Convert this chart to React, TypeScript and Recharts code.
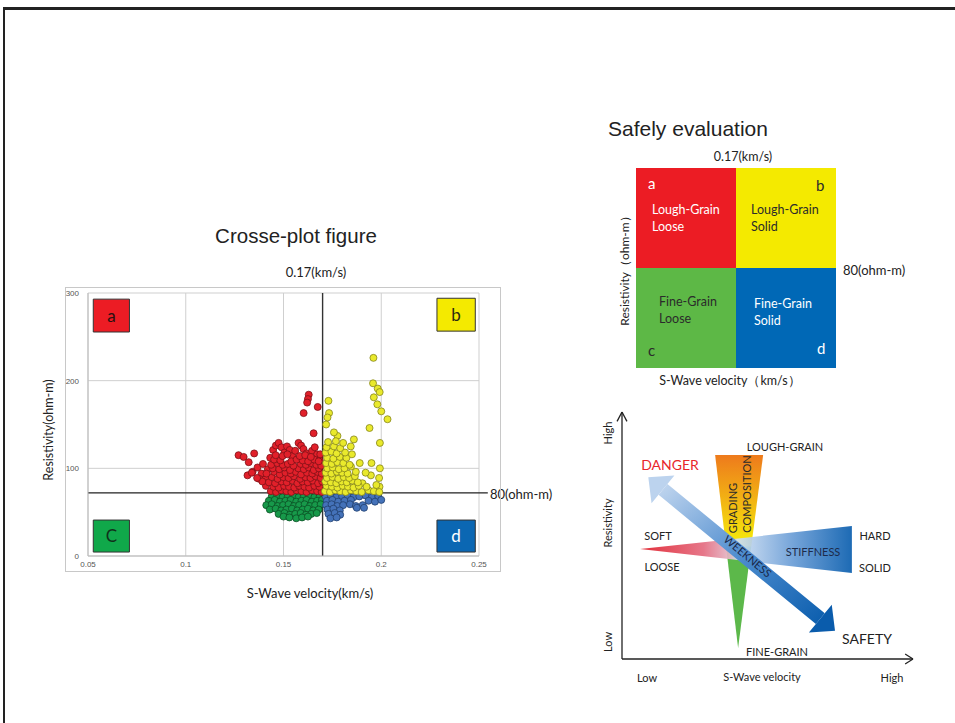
import React from "react";
import {
  ScatterChart,
  Scatter,
  ComposedChart,
  Area,
  XAxis,
  YAxis,
  CartesianGrid,
  ReferenceLine,
  ReferenceArea,
} from "recharts";

// ---- cross-plot: S-wave velocity (km/s) vs resistivity (ohm-m)
const velocityTicks = [0.05, 0.1, 0.15, 0.2, 0.25];
const resistivityTicks = [0, 100, 200, 300];
const velocityCut = 0.17;
const resistivityCut = 72; // the drawn cut line sits at ~72 on the plot scale

// a : lough-grain loose (red)
const groupA: [number, number][] = [
  [0.1629, 184], [0.1625, 179], [0.1621, 175], [0.1675, 170], [0.1603, 163], [0.1654, 140],
  [0.127, 115], [0.1296, 113], [0.1322, 107], [0.135, 117], [0.1316, 92], [0.1342, 96],
  [0.1367, 101], [0.1408, 89], [0.1388, 94], [0.1395, 105], [0.1376, 88], [0.142, 99],
  [0.1432, 112], [0.1447, 121], [0.1461, 126], [0.1475, 129], [0.149, 124], [0.1505, 118],
  [0.1518, 125], [0.1532, 121], [0.1545, 114], [0.156, 120], [0.1577, 129], [0.159, 126],
  [0.1602, 122], [0.1618, 117], [0.1633, 111], [0.1646, 120], [0.166, 124], [0.1672, 116],
  [0.1685, 109],
  [0.1435, 74], [0.1462, 73], [0.1488, 75], [0.1515, 74], [0.154, 73], [0.1566, 75],
  [0.1592, 74], [0.1618, 73], [0.1645, 75], [0.1672, 74], [0.1695, 73],
  [0.141, 80], [0.1448, 79], [0.1475, 78], [0.1503, 80], [0.1528, 79], [0.1555, 78],
  [0.158, 80], [0.1607, 79], [0.1631, 78], [0.1658, 80], [0.1684, 79],
  [0.1392, 85], [0.1425, 84], [0.1457, 83], [0.149, 85], [0.1517, 84], [0.1546, 86],
  [0.1571, 83], [0.1597, 85], [0.1624, 84], [0.165, 86], [0.1677, 83], [0.1698, 85],
  [0.1365, 89], [0.144, 90], [0.147, 88], [0.1499, 90], [0.1526, 89], [0.1553, 91],
  [0.1585, 88], [0.1612, 90], [0.1638, 89], [0.1664, 91], [0.169, 89],
  [0.1338, 95], [0.1413, 94], [0.1452, 96], [0.1481, 93], [0.151, 95], [0.1538, 94],
  [0.1563, 96], [0.159, 93], [0.162, 95], [0.1647, 94], [0.1673, 96], [0.1696, 94],
  [0.1445, 100], [0.1478, 99], [0.1505, 101], [0.1533, 98], [0.1576, 100], [0.1604, 99],
  [0.1629, 101], [0.1655, 98], [0.1681, 100],
  [0.1437, 104], [0.1468, 106], [0.1496, 104], [0.1522, 105], [0.1551, 103], [0.1588, 105],
  [0.1615, 104], [0.1642, 106], [0.1668, 104], [0.1693, 103],
  [0.1452, 110], [0.1484, 109], [0.154, 108], [0.1567, 110], [0.1598, 109], [0.1626, 108],
  [0.1657, 110], [0.168, 108],
  [0.146, 115], [0.1495, 114], [0.152, 116], [0.1583, 114], [0.1611, 115], [0.164, 113],
  [0.1688, 116],
];

// b : lough-grain solid (yellow)
const groupB: [number, number][] = [
  [0.196, 226], [0.1958, 197], [0.1982, 191], [0.1992, 187], [0.1962, 181], [0.198, 173],
  [0.2, 165], [0.2032, 156], [0.194, 146], [0.1993, 129], [0.173, 177], [0.1733, 163],
  [0.1725, 158], [0.1718, 150], [0.1776, 137], [0.1758, 141], [0.186, 133], [0.1844, 125],
  [0.189, 106], [0.195, 106], [0.1993, 100], [0.1989, 89], [0.1991, 79], [0.1947, 92],
  [0.192, 95], [0.1904, 83],
  [0.1712, 74], [0.1738, 73], [0.1765, 75], [0.179, 74], [0.1818, 73], [0.1845, 75],
  [0.1872, 74], [0.19, 73], [0.1935, 75], [0.1962, 74], [0.199, 73],
  [0.172, 80], [0.1748, 79], [0.1776, 78], [0.1803, 80], [0.183, 79], [0.1858, 78],
  [0.1885, 80], [0.1925, 79], [0.1975, 81],
  [0.1714, 85], [0.1742, 84], [0.177, 83], [0.1797, 85], [0.1824, 84], [0.1852, 86],
  [0.188, 84],
  [0.1722, 89], [0.1751, 90], [0.178, 88], [0.1808, 90], [0.1836, 89], [0.1865, 91],
  [0.1716, 95], [0.1745, 94], [0.1773, 96], [0.18, 95], [0.1828, 94], [0.187, 96],
  [0.1724, 100], [0.1752, 101], [0.1783, 99], [0.1812, 100], [0.1845, 102],
  [0.1718, 106], [0.1747, 105], [0.1775, 107], [0.1806, 106], [0.1838, 104],
  [0.1723, 112], [0.1755, 111], [0.1788, 113], [0.1822, 112],
  [0.1716, 118], [0.1745, 119], [0.1772, 117], [0.1815, 118], [0.185, 116],
  [0.172, 124], [0.1758, 125], [0.179, 123],
  [0.1728, 130], [0.1768, 131], [0.1805, 129],
];

// c : fine-grain loose (green)
const groupC: [number, number][] = [
  [0.144, 68], [0.1468, 69], [0.1495, 67], [0.1522, 68], [0.155, 69], [0.1577, 67],
  [0.1604, 68], [0.163, 69], [0.1658, 67], [0.1685, 68],
  [0.1425, 63], [0.1455, 64], [0.1482, 62], [0.151, 63], [0.1537, 64], [0.1565, 62],
  [0.1592, 63], [0.1618, 64], [0.1645, 62], [0.1672, 63], [0.1697, 64],
  [0.1412, 58], [0.144, 59], [0.147, 57], [0.1498, 58], [0.1526, 59], [0.1553, 57],
  [0.158, 58], [0.1608, 59], [0.1635, 57], [0.1662, 58], [0.169, 59],
  [0.143, 53], [0.146, 54], [0.1488, 52], [0.1515, 53], [0.1543, 54], [0.157, 52],
  [0.1598, 53], [0.1625, 54], [0.1652, 52], [0.168, 53],
  [0.1475, 48], [0.1505, 49], [0.1533, 47], [0.156, 48], [0.1588, 49], [0.1615, 47],
  [0.1642, 48], [0.167, 49],
  [0.15, 45], [0.153, 44], [0.1565, 43], [0.1595, 44], [0.1625, 45],
];

// d : fine-grain solid (blue)
const groupD: [number, number][] = [
  [0.1715, 68], [0.1742, 69], [0.177, 67], [0.18, 68], [0.1828, 69], [0.1858, 67],
  [0.1888, 68], [0.192, 69], [0.1952, 67], [0.1985, 68],
  [0.1722, 63], [0.175, 64], [0.178, 62], [0.1812, 63], [0.1845, 64], [0.1935, 63],
  [0.1968, 62], [0.2, 64],
  [0.1718, 58], [0.1746, 59], [0.1775, 57], [0.1805, 58], [0.184, 59], [0.187, 57],
  [0.1905, 58],
  [0.1725, 53], [0.1755, 54], [0.1788, 52], [0.1875, 55], [0.1912, 55],
  [0.173, 48], [0.1762, 49], [0.179, 47],
  [0.174, 43], [0.1772, 44],
];

// quadrant badges drawn inside the cross-plot
const badges = [
  { id: "a", x1: 0.0527, x2: 0.0712, y1: 255.5, y2: 293 },
  { id: "b", x1: 0.2285, x2: 0.2481, y1: 256.5, y2: 294 },
  { id: "C", x1: 0.0527, x2: 0.0712, y1: 4.5, y2: 41 },
  { id: "d", x1: 0.2285, x2: 0.2481, y1: 4.5, y2: 41 },
];

// ---- safety evaluation table
const evalCells = [
  { id: "a", name: ["Lough-Grain", "Loose"], col: 0, row: 1 },
  { id: "b", name: ["Lough-Grain", "Solid"], col: 1, row: 1 },
  { id: "c", name: ["Fine-Grain", "Loose"], col: 0, row: 0 },
  { id: "d", name: ["Fine-Grain", "Solid"], col: 1, row: 0 },
];

// ---- schematic (0..100 on both axes), shapes given as [low, high] ranges
const gradingFan = [
  { x: 32.0, r: [82.6, 82.6] },
  { x: 39.9, r: [4.5, 82.6] },
  { x: 48.5, r: [82.6, 82.6] },
];
const stiffnessWedge = [
  { x: 6.2, r: [44.5, 44.5] },
  { x: 79.0, r: [34.8, 53.8] },
];
const arrowTail = [
  { x: 9.04, r: [73.56, 73.56] },
  { x: 10.15, r: [63.05, 73.65] },
  { x: 18.01, r: [74.31, 74.31] },
];
const arrowShaft = [
  { x: 12.56, r: [66.49, 66.49] },
  { x: 15.61, r: [63.54, 70.87] },
  { x: 66.63, r: [14.15, 21.48] },
  { x: 69.68, r: [18.53, 18.53] },
];
const arrowHead = [
  { x: 64.22, r: [10.71, 10.71] },
  { x: 72.08, r: [11.37, 21.97] },
  { x: 73.2, r: [11.46, 11.46] },
];

const shapeSets: Record<string, { x: number; r: number[] }[]> = {
  fan: gradingFan,
  stiff: stiffnessWedge,
  tail: arrowTail,
  shaft: arrowShaft,
  head: arrowHead,
};
const schemaTable = (() => {
  const rows: Record<number, any> = {};
  Object.entries(shapeSets).forEach(([key, pts]) =>
    pts.forEach((p) => {
      rows[p.x] = rows[p.x] || { x: p.x };
      rows[p.x][key] = p.r;
    })
  );
  return Object.values(rows).sort((a: any, b: any) => a.x - b.x);
})();

const toPts = (arr: [number, number][]) => arr.map(([v, r]) => ({ v, r }));

const dot = (fill: string, stroke: string) => (p: any) =>
  <circle cx={p.cx} cy={p.cy} r={3.5} fill={fill} stroke={stroke} strokeWidth={0.8} />;

const badgeColor: Record<string, string> = { a: "#ec1c24", b: "#f4ea00", C: "#10a84a", d: "#0b67b3" };
const badgeText: Record<string, string> = { a: "#2a1010", b: "#2a2a10", C: "#10301a", d: "#ffffff" };
const cellColor: Record<string, string> = { a: "#ec1c24", b: "#f4ea00", c: "#5db846", d: "#0068b6" };
const cellText: Record<string, string> = { a: "#ffffff", b: "#2b2b2b", c: "#2b2b2b", d: "#ffffff" };

const LATO = "Lato, 'Noto Sans', sans-serif";

const Txt = ({ x, y, children, size = 12, color = "#222", rotate = 0, font = LATO, align = "center" }: any) => (
  <div
    style={{
      position: "absolute",
      left: x,
      top: y,
      transform: `translate(${align === "left" ? "0" : "-50%"}, -50%) rotate(${rotate}deg)`,
      fontSize: size,
      color,
      fontFamily: font,
      whiteSpace: "nowrap",
      lineHeight: 1,
    }}
  >
    {children}
  </div>
);

const cellLayout: Record<string, any> = {
  a: { lx: 12, ly: 21, tx: 16, ty: 46 },
  b: { lx: 80, ly: 23, tx: 15, ty: 46 },
  c: { lx: 12, ly: 88, tx: 23, ty: 38 },
  d: { lx: 81, ly: 86, tx: 18, ty: 40 },
};

const cellLabel = (cell: any) => (props: any) => {
  const vb = props.viewBox || {};
  const { x, y } = vb;
  const c = cellText[cell.id];
  const L = cellLayout[cell.id];
  return (
    <g fontFamily={LATO}>
      <text x={x + L.lx} y={y + L.ly} fill={c} fontSize={15}>{cell.id}</text>
      <text x={x + L.tx} y={y + L.ty} fill={c} fontSize={12.5}>{cell.name[0]}</text>
      <text x={x + L.tx} y={y + L.ty + 17} fill={c} fontSize={12.5}>{cell.name[1]}</text>
    </g>
  );
};

export default function App() {
  const tickStyle = { fontSize: 8, fill: "#555", fontFamily: "'Liberation Sans', Arial" };
  return (
    <div
      style={{
        position: "absolute",
        left: 0,
        top: 0,
        width: 955,
        height: 723,
        background: "#fff",
        overflow: "hidden",
        fontFamily: "'Liberation Sans', Arial, sans-serif",
      }}
    >
      {/* page frame */}
      <div style={{ position: "absolute", left: 3, top: 7, width: 960, height: 730, borderTop: "3px solid #222", borderLeft: "2px solid #222" }} />

      {/* ---- cross plot ---- */}
      <Txt x={296} y={236} size={20.5} font="'Liberation Sans', Arial">Crosse-plot figure</Txt>
      <Txt x={316} y={272} size={13}>0.17(km/s)</Txt>
      <Txt x={490} y={494} size={13} align="left">80(ohm-m)</Txt>
      <Txt x={49} y={430} size={12.5} rotate={-90}>Resistivity(ohm-m)</Txt>
      <Txt x={310} y={593} size={13}>S-Wave velocity(km/s)</Txt>
      <div style={{ position: "absolute", left: 65, top: 287, width: 434, height: 283, border: "1px solid #c8c8c8" }} />
      <div style={{ position: "absolute", left: 65, top: 287 }}>
        <ScatterChart width={435} height={284} margin={{ top: 6, right: 21, bottom: 0, left: 3 }}>
          <CartesianGrid stroke="#cfcfcf" />
          <XAxis
            type="number"
            dataKey="v"
            domain={[0.05, 0.25]}
            ticks={velocityTicks}
            interval={0}
            height={15}
            tickLine={false}
            tickSize={0}
            tickMargin={5}
            axisLine={{ stroke: "#bbb" }}
            tick={tickStyle}
          />
          <YAxis
            type="number"
            dataKey="r"
            domain={[0, 300]}
            ticks={resistivityTicks}
            interval={0}
            width={20}
            tickLine={false}
            tickSize={0}
            tickMargin={9}
            axisLine={{ stroke: "#bbb" }}
            tick={tickStyle}
          />
          <Scatter data={toPts(groupC)} shape={dot("#17994a", "#0b4f25")} isAnimationActive={false} />
          <Scatter data={toPts(groupD)} shape={dot("#4472b9", "#22406f")} isAnimationActive={false} />
          <Scatter data={toPts(groupA)} shape={dot("#e1202a", "#7e1016")} isAnimationActive={false} />
          <Scatter data={toPts(groupB)} shape={dot("#e9e92c", "#85851a")} isAnimationActive={false} />
          <ReferenceLine x={velocityCut} stroke="#333" strokeWidth={1.4} />
          <ReferenceLine
            segment={[{ x: 0.05, y: resistivityCut }, { x: 0.2545, y: resistivityCut }]}
            stroke="#222"
            strokeWidth={1.4}
            ifOverflow="visible"
          />
          {badges.map((b) => (
            <ReferenceArea
              key={b.id}
              x1={b.x1}
              x2={b.x2}
              y1={b.y1}
              y2={b.y2}
              fill={badgeColor[b.id]}
              fillOpacity={1}
              stroke="#333"
              strokeWidth={1}
              ifOverflow="visible"
              label={{ value: b.id, position: "center", fill: badgeText[b.id], fontSize: 17, fontFamily: LATO }}
            />
          ))}
        </ScatterChart>
      </div>

      {/* ---- safety evaluation table ---- */}
      <Txt x={608} y={128} size={21} align="left" font="'Liberation Sans', Arial">Safely evaluation</Txt>
      <Txt x={743} y={157} size={12.5}>0.17(km/s)</Txt>
      <Txt x={843} y={270} size={13} align="left">80(ohm-m)</Txt>
      <Txt x={625} y={268} size={12} rotate={-90}>Resistivity（ohm-m）</Txt>
      <Txt x={730} y={381} size={12.5}>S-Wave velocity（km/s）</Txt>
      <div style={{ position: "absolute", left: 636, top: 168 }}>
        <ScatterChart width={200} height={200} margin={{ top: 0, right: 0, bottom: 0, left: 0 }}>
          <XAxis type="number" dataKey="v" domain={[0, 2]} hide />
          <YAxis type="number" dataKey="r" domain={[0, 2]} hide />
          <Scatter
            data={evalCells.map((c) => ({ v: c.col + 0.5, r: c.row + 0.5 }))}
            shape={() => <g />}
            isAnimationActive={false}
          />
          {evalCells.map((c) => (
            <ReferenceArea
              key={c.id}
              x1={c.col}
              x2={c.col + 1}
              y1={c.row}
              y2={c.row + 1}
              fill={cellColor[c.id]}
              fillOpacity={1}
              stroke="none"
              ifOverflow="visible"
              label={cellLabel(c)}
            />
          ))}
        </ScatterChart>
      </div>

      {/* ---- schematic ---- */}
      <div style={{ position: "absolute", left: 612, top: 402 }}>
        <ComposedChart width={311} height={267} data={schemaTable} margin={{ top: 10, right: 10, bottom: 10, left: 10 }}>
          <defs>
            <linearGradient id="fanGrad" x1="0" y1="0" x2="0" y2="1">
              <stop offset="0" stopColor="#ee7a1c" />
              <stop offset="0.42" stopColor="#f5e10c" />
              <stop offset="0.47" stopColor="#f2e512" />
              <stop offset="0.48" stopColor="#5cb84a" />
              <stop offset="1" stopColor="#5cb84a" />
            </linearGradient>
            <linearGradient id="stiffGrad" x1="0" y1="0" x2="1" y2="0">
              <stop offset="0" stopColor="#e01e2a" />
              <stop offset="0.3" stopColor="#e46c80" />
              <stop offset="0.43" stopColor="#e4bccb" />
              <stop offset="0.46" stopColor="#d0e0f3" />
              <stop offset="0.72" stopColor="#6a9dd6" />
              <stop offset="1" stopColor="#0a5eae" />
            </linearGradient>
            <linearGradient id="shaftGrad" x1="0" y1="0" x2="1" y2="1">
              <stop offset="0" stopColor="#c3d7ef" />
              <stop offset="0.5" stopColor="#4f8dcf" />
              <stop offset="1" stopColor="#0a5dad" />
            </linearGradient>
          </defs>
          <XAxis type="number" dataKey="x" domain={[0, 100]} hide />
          <YAxis type="number" domain={[0, 100]} hide />
          <Area type="linear" dataKey="fan" fill="url(#fanGrad)" fillOpacity={1} stroke="none" connectNulls dot={false} activeDot={false} isAnimationActive={false} />
          <Area type="linear" dataKey="stiff" fill="url(#stiffGrad)" fillOpacity={0.92} stroke="none" connectNulls dot={false} activeDot={false} isAnimationActive={false} />
          <Area type="linear" dataKey="shaft" fill="url(#shaftGrad)" fillOpacity={1} stroke="none" connectNulls dot={false} activeDot={false} isAnimationActive={false} />
          <Area type="linear" dataKey="tail" fill="#bcd3ee" fillOpacity={1} stroke="none" connectNulls dot={false} activeDot={false} isAnimationActive={false} />
          <Area type="linear" dataKey="head" fill="#0a5cac" fillOpacity={1} stroke="none" connectNulls dot={false} activeDot={false} isAnimationActive={false} />
          <ReferenceLine segment={[{ x: 0, y: 0 }, { x: 0, y: 100 }]} stroke="#222" strokeWidth={1.3} ifOverflow="visible" />
          <ReferenceLine segment={[{ x: -1.7, y: 96.2 }, { x: 0, y: 100 }]} stroke="#222" strokeWidth={1.3} ifOverflow="visible" />
          <ReferenceLine segment={[{ x: 1.7, y: 96.2 }, { x: 0, y: 100 }]} stroke="#222" strokeWidth={1.3} ifOverflow="visible" />
          <ReferenceLine segment={[{ x: 0, y: 0 }, { x: 100, y: 0 }]} stroke="#222" strokeWidth={1.3} ifOverflow="visible" />
          <ReferenceLine segment={[{ x: 97.3, y: 2 }, { x: 100, y: 0 }]} stroke="#222" strokeWidth={1.3} ifOverflow="visible" />
          <ReferenceLine segment={[{ x: 97.3, y: -2 }, { x: 100, y: 0 }]} stroke="#222" strokeWidth={1.3} ifOverflow="visible" />
        </ComposedChart>
      </div>
      <Txt x={785} y={446} size={11}>LOUGH-GRAIN</Txt>
      <Txt x={777} y={651} size={11}>FINE-GRAIN</Txt>
      <Txt x={670} y={465} size={14} color="#e8262b">DANGER</Txt>
      <Txt x={867} y={639} size={14}>SAFETY</Txt>
      <Txt x={658} y={535} size={11}>SOFT</Txt>
      <Txt x={662} y={566} size={11}>LOOSE</Txt>
      <Txt x={875} y={535} size={11}>HARD</Txt>
      <Txt x={875} y={567} size={11}>SOLID</Txt>
      <Txt x={813} y={551} size={11} color="#1d2b4a">STIFFNESS</Txt>
      <Txt x={732} y={508} size={11} rotate={-90} color="#2a2a2a">GRADING</Txt>
      <Txt x={746} y={494} size={11} rotate={-90} color="#2a2a2a">COMPOSITION</Txt>
      <Txt x={748} y={556} size={11} rotate={40} color="#1a2747">WEEKNESS</Txt>
      <Txt x={607} y={433} size={11} rotate={-90}>High</Txt>
      <Txt x={607} y={523} size={11} rotate={-90}>Resistivity</Txt>
      <Txt x={607} y={642} size={11} rotate={-90}>Low</Txt>
      <Txt x={647} y={677} size={11}>Low</Txt>
      <Txt x={762} y={676} size={11}>S-Wave velocity</Txt>
      <Txt x={892} y={677} size={11}>High</Txt>
    </div>
  );
}
